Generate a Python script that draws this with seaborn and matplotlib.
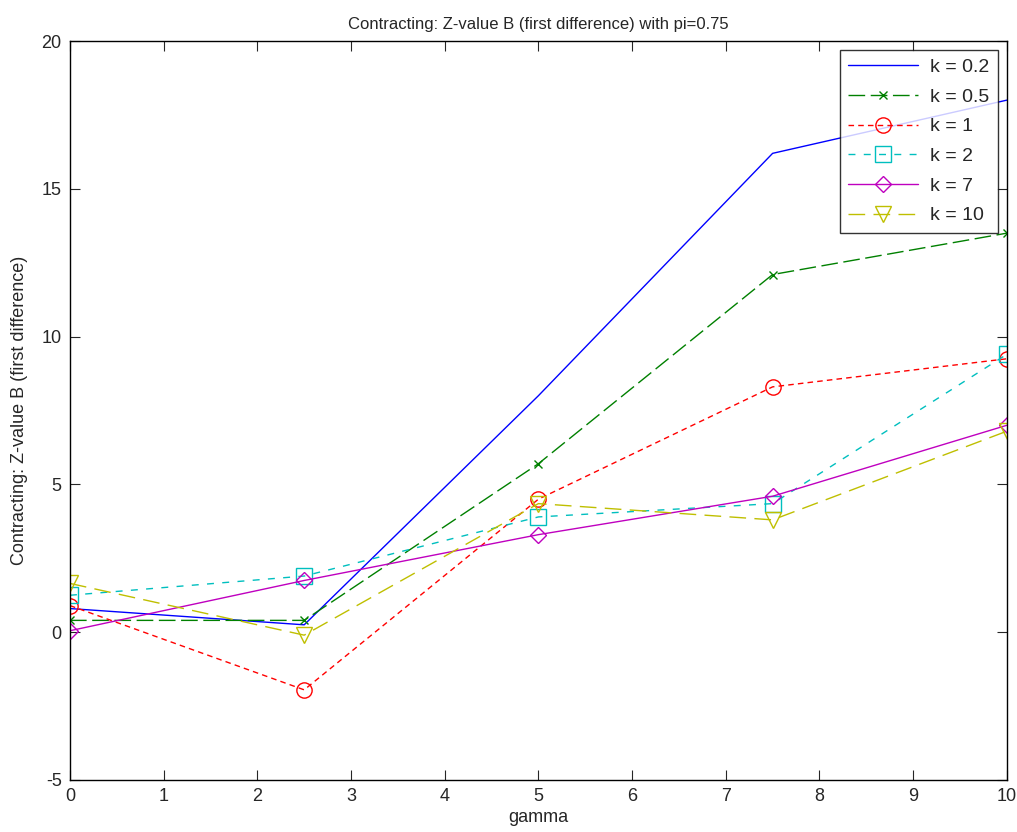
import matplotlib
matplotlib.use('Agg')
import matplotlib.pyplot as plt
import seaborn as sns
import pandas as pd

gamma = [0, 2.5, 5, 7.5, 10]
k_labels = ['k = 0.2', 'k = 0.5', 'k = 1', 'k = 2', 'k = 7', 'k = 10']
k_02 = [0.8, 0.25, 8.0, 16.2, 18.0]
k_05 = [0.4, 0.4, 5.7, 12.1, 13.5]
k_1 = [0.9, -1.95, 4.5, 8.3, 9.25]
k_2 = [1.25, 1.9, 3.9, 4.35, 9.4]
k_7 = [0.05, 1.75, 3.3, 4.6, 7.0]
k_10 = [1.65, -0.1, 4.35, 3.8, 6.8]
series = [k_02, k_05, k_1, k_2, k_7, k_10]

colors = ['#0000ff', '#008000', '#ff0000', '#00bfbf', '#bf00bf', '#bfbf00']
markers = [None, 'x', 'o', 's', 'D', 'v']
msizes = [0, 6, 11, 11, 8, 12]
dashes = [None, (12, 4), (4, 3), (5, 6), None, (12, 6)]

sns.set_style('ticks')
plt.rcParams['font.family'] = ['Liberation Sans', 'DejaVu Sans']
plt.rcParams['axes.unicode_minus'] = False

rows = []
for lab, vals in zip(k_labels, series):
    for g, v in zip(gamma, vals):
        rows.append({'gamma': g, 'value': v, 'k': lab})
df = pd.DataFrame(rows)

fig = plt.figure(figsize=(10.17, 8.32), dpi=100)
ax = fig.add_axes([0.0688, 0.0625, 0.9212, 0.8882])

for lab, c, m, ms, d in zip(k_labels, colors, markers, msizes, dashes):
    sub = df[df['k'] == lab]
    sns.lineplot(data=sub, x='gamma', y='value', ax=ax, color=c, label=lab,
                 marker=m, markersize=ms,
                 markerfacecolor='none', markeredgecolor=c,
                 markeredgewidth=1, linewidth=1, estimator=None)
    l = ax.get_lines()[-1]
    if d is not None:
        l.set_dashes(d)

ax.set_xlim(0, 10)
ax.set_ylim(-5, 20)
ax.set_xticks(range(0, 11))
ax.set_yticks([-5, 0, 5, 10, 15, 20])
ax.tick_params(direction='in', length=7, labelsize=13, pad=6, top=True, right=True)
for s in ax.spines.values():
    s.set_visible(True)
    s.set_color('black')
    s.set_linewidth(1)
ax.set_xlabel('gamma', fontsize=13, labelpad=3)
ax.set_ylabel('Contracting: Z-value B (first difference)', fontsize=13, labelpad=10)
ax.set_title('Contracting: Z-value B (first difference) with pi=0.75', fontsize=12, pad=9)

leg = ax.legend(loc='upper right', fontsize=14, frameon=True, fancybox=False,
                edgecolor='black', borderpad=0.45, handlelength=3.6,
                handletextpad=0.6, labelspacing=0.62, borderaxespad=0.45)
leg.get_frame().set_linewidth(1)

fig.savefig('out.png', dpi=100)
